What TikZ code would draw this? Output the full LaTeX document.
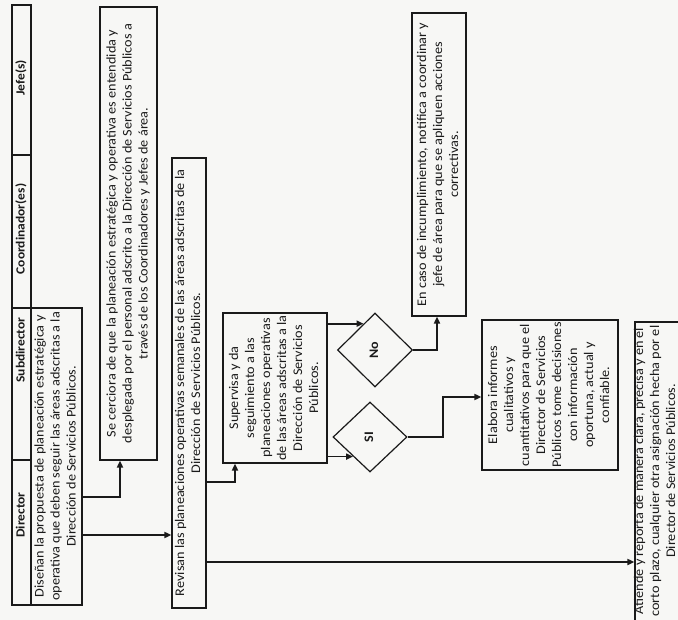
\documentclass[tikz,border=0pt]{standalone}
\usepackage{fontspec}
\setmainfont{Carlito}
\usepackage{graphicx}
\usetikzlibrary{shapes.geometric,arrows.meta,calc}
\definecolor{ink}{HTML}{1A1A1A}
\definecolor{paper}{HTML}{F7F7F5}
\newcommand{\rt}[1]{\rotatebox{90}{\scalebox{1.08}[1]{\begin{tabular}{@{}c@{}}#1\end{tabular}}}}
\begin{document}
\begin{tikzpicture}[x=1pt,y=-1pt,
  every node/.style={text=ink},
  txt/.style={font=\fontsize{13.2}{16}\selectfont},
  box/.style={draw=ink, line width=1.2pt, inner sep=0pt, txt},
  hdrtxt/.style={inner sep=0pt, font=\fontsize{12.5}{15}\selectfont\bfseries},
  dec/.style={diamond, draw=ink, line width=1.2pt, inner sep=0pt, font=\fontsize{13}{15}\selectfont\bfseries},
  conn/.style={draw=ink, line width=1.7pt, -{Triangle[length=7pt,width=6pt]}}]
\useasboundingbox (0,0) rectangle (678,620);
\fill[paper] (0,0) rectangle (678,620);
\clip (0,0) rectangle (678,620);

% header
\node[box, minimum width=19pt, minimum height=150pt] (jefe) at (21.5,80) {};
\node[hdrtxt] (jefet) at (21.5,78) {\rt{Jefe(s)}};
\node[box, minimum width=19pt, minimum height=153pt] (coord) at (21.5,231.5) {};
\node[hdrtxt] (coordt) at (21.5,229) {\rt{Coordinador(es)}};
\node[box, minimum width=19pt, minimum height=152pt] (sub) at (21.5,384) {};
\node[hdrtxt] (subt) at (21.5,350) {\rt{Subdirector}};
\node[box, minimum width=19pt, minimum height=145pt] (dir) at (21.5,532.5) {};
\node[hdrtxt] (dirt) at (21.5,515) {\rt{Director}};

% boxes
\node[box, minimum width=51pt, minimum height=297pt] (dis) at (56.5,456.5)
  {\rt{Diseñan la propuesta de planeación estratégica y\\operativa que deben seguir las áreas adscritas a la\\Dirección de Servicios Públicos.}};
\node[box, minimum width=57pt, minimum height=453pt] (cer) at (128.5,233.5)
  {\rt{Se cerciora de que la planeación estratégica y operativa es entendida y\\desplegada por el personal adscrito a la Dirección de Servicios Públicos a\\través de los Coordinadores y Jefes de área.}};
\node[box, minimum width=34pt, minimum height=450pt] (rev) at (189,383)
  {\rt{Revisan las planeaciones operativas semanales de las áreas adscritas de la\\Dirección de Servicios Públicos.}};
\node[box, minimum width=104pt, minimum height=150pt] (sup) at (275,388)
  {\rt{Supervisa y da\\seguimiento a las\\planeaciones operativas\\de las áreas adscritas a la\\Dirección de Servicios\\Públicos.}};
\node[dec, minimum width=75pt, minimum height=74pt] (no) at (375,350) {\rt{No}};
\node[dec, minimum width=74pt, minimum height=70pt] (si) at (370,437) {\rt{SI}};
\node[box, minimum width=54pt, minimum height=303pt] (enc) at (439,164.5)
  {\rt{En caso de incumplimiento, notifica a coordinar y\\jefe de área para que se apliquen acciones\\correctivas.}};
\node[box, minimum width=136pt, minimum height=150pt] (ela) at (550,395)
  {\rt{Elabora informes\\cualitativos y\\cuantitativos para que el\\Director de Servicios\\Públicos tome decisiones\\con información\\oportuna, actual y\\confiable.}};
\node[box, minimum width=65pt, minimum height=308pt] (ati) at (667.5,476) {};
\node[inner sep=0pt, txt] (atit) at (656,471)
  {\rt{Atiende y reporta de manera clara, precisa y en el\\corto plazo, cualquier otra asignación hecha por el\\Director de Servicios Públicos.}};

% connectors
\coordinate (k1) at (120,497);
\draw[conn] (dis.east |- k1) -| (k1 |- cer.south);
\coordinate (k2) at (0,535);
\draw[conn] (dis.east |- k2) -- (rev.west |- k2);
\coordinate (k3) at (235,482);
\draw[conn] (rev.east |- k3) -| (k3 |- sup.south);
\coordinate (k4) at (0,562);
\draw[conn] (rev.east |- k4) -- (ati.west |- k4);
\coordinate (p) at ($(no.north)!0.3!(no.west)$);
\draw[conn] (sup.east |- p) -- (p);
\coordinate (q) at ($(si.west)!0.55!(si.south)$);
\draw[conn] (sup.east |- q) -- (q);
\coordinate (k7) at (437,0);
\draw[conn] (no.east) -| (k7 |- enc.south);
\coordinate (k8) at (443,397);
\draw[conn] (si.east) -| (k8) -- (ela.west |- k8);
\end{tikzpicture}
\end{document}
